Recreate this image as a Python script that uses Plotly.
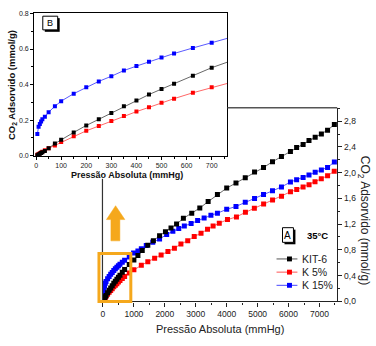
import plotly.graph_objects as go

# ---------------- data ----------------
p_kit6 = [5, 10, 15, 20, 25, 35, 50, 75, 100, 150, 200, 250, 300, 350, 400, 450, 500, 550, 625, 700,
          850, 1000, 1130, 1270, 1450, 1630, 1830, 2020, 2200, 2380, 2600, 2870, 3130, 3400, 3700,
          4000, 4300, 4600, 4900, 5190, 5480, 5770, 6060, 6260, 6470, 6660, 6860, 7060, 7260, 7480]
q_kit6 = [0.003, 0.007, 0.011, 0.015, 0.019, 0.027, 0.042, 0.068, 0.090, 0.131, 0.170, 0.205, 0.240,
          0.278, 0.310, 0.344, 0.375, 0.405, 0.450, 0.495,
          0.57, 0.64, 0.71, 0.79, 0.87, 0.94, 1.02, 1.08, 1.14, 1.20, 1.29, 1.37, 1.45, 1.55, 1.66,
          1.76, 1.84, 1.92, 2.01, 2.08, 2.17, 2.25, 2.33, 2.39, 2.44, 2.50, 2.55, 2.60, 2.66, 2.75]

p_k5 = [5, 10, 15, 20, 25, 35, 50, 75, 100, 150, 200, 250, 300, 350, 400, 450, 500, 550, 625, 700,
        850, 1000, 1240, 1450, 1670, 1880, 2100, 2310, 2520, 2740, 2950, 3170, 3380, 3560, 3760,
        4025, 4315, 4605, 4894, 5193, 5482, 5772, 6061, 6264, 6469, 6662, 6855, 7058, 7261, 7476]
q_k5 = [0.005, 0.010, 0.014, 0.018, 0.022, 0.030, 0.042, 0.058, 0.077, 0.110, 0.140, 0.167, 0.195,
        0.224, 0.248, 0.272, 0.298, 0.321, 0.354, 0.385,
        0.44, 0.49, 0.56, 0.615, 0.67, 0.72, 0.775, 0.825, 0.891, 0.942, 1.008, 1.058, 1.119, 1.17, 1.215,
        1.27, 1.312, 1.383, 1.448, 1.514, 1.574, 1.635, 1.702, 1.737, 1.778, 1.813, 1.859, 1.904, 1.954, 2.021]

p_k15 = [5, 10, 15, 20, 25, 35, 50, 75, 100, 150, 200, 250, 300, 350, 400, 450, 500, 550, 625, 700,
         850, 990, 1130, 1240, 1400, 1610, 1830, 2060, 2260, 2450, 2630, 2850, 3060, 3270, 3490, 3700,
         4000, 4300, 4600, 4900, 5190, 5480, 5770, 6060, 6260, 6470, 6660, 6860, 7060, 7260, 7480]
q_k15 = [0.122, 0.163, 0.179, 0.192, 0.205, 0.219, 0.245, 0.278, 0.307, 0.349, 0.385, 0.418, 0.447,
         0.479, 0.504, 0.528, 0.553, 0.575, 0.606, 0.636,
         0.69, 0.75, 0.78, 0.815, 0.866, 0.916, 0.967, 1.04, 1.09, 1.13, 1.17, 1.21, 1.255, 1.296, 1.337, 1.37,
         1.43, 1.475, 1.54, 1.60, 1.66, 1.717, 1.778, 1.854, 1.889, 1.924, 1.965, 2.006, 2.041, 2.082, 2.167]

series_names = ["KIT-6", "K 5%", "K 15%"]
main_x_ticks = [0, 1000, 2000, 3000, 4000, 5000, 6000, 7000]
main_x_ticktext = ["0", "1000", "2000", "3000", "4000", "5000", "6000", "7000"]
main_y_ticks = [0.0, 0.4, 0.8, 1.2, 1.6, 2.0, 2.4, 2.8]
main_y_ticktext = ["0,0", "0,4", "0,8", "1,2", "1,6", "2,0", "2,4", "2,8"]
inset_x_ticks = [0, 100, 200, 300, 400, 500, 600, 700]
inset_y_ticks = [0.0, 0.2, 0.4, 0.6, 0.8]

# ---------------- layout helpers ----------------
W, H = 376, 346
FONT = "Liberation Sans, Arial, sans-serif"


def fx(px):
    return px / W


def fy(py):
    return 1 - py / H


colors = {"KIT-6": "#000000", "K 5%": "#FF0000", "K 15%": "#0000FF"}
line_colors = {"KIT-6": "#404040", "K 5%": "#FF4040", "K 15%": "#3030FF"}
data = {"KIT-6": (p_kit6, q_kit6), "K 5%": (p_k5, q_k5), "K 15%": (p_k15, q_k15)}

fig = go.Figure()
order = ["K 5%", "K 15%", "KIT-6"]
for name in order:
    xs, ys = data[name]
    fig.add_trace(go.Scatter(x=xs, y=ys, mode="lines+markers", name=name, showlegend=False,
                             xaxis="x", yaxis="y", cliponaxis=True,
                             line=dict(color=line_colors[name], width=0.8),
                             marker=dict(symbol="square", size=5, color=colors[name])))
for name in order:
    xs, ys = data[name]
    fig.add_trace(go.Scatter(x=xs, y=ys, mode="lines+markers", name=name, showlegend=False,
                             xaxis="x2", yaxis="y2", cliponaxis=True,
                             line=dict(color=line_colors[name], width=0.8),
                             marker=dict(symbol="square", size=4, color=colors[name])))

axis_col = "#222222"
fig.update_layout(
    width=W, height=H, margin=dict(l=0, r=0, t=0, b=0),
    paper_bgcolor="white", plot_bgcolor="white",
    font=dict(family=FONT, color=axis_col),
    xaxis=dict(domain=[fx(101), fx(337)], range=[-16, 7572], anchor="y",
               showline=True, linecolor=axis_col, linewidth=1.3, mirror=False,
               ticks="outside", ticklen=4, tickwidth=1, tickcolor=axis_col,
               tickvals=main_x_ticks, ticktext=main_x_ticktext,
               minor=dict(ticks="outside", ticklen=2, tickcolor=axis_col, dtick=500, tick0=0),
               showgrid=False, zeroline=False, tickfont=dict(size=8.5)),
    yaxis=dict(domain=[fy(305.5), fy(107.3)], range=[-0.003, 3.009], anchor="x", side="right",
               showline=True, linecolor=axis_col, linewidth=1.3,
               ticks="outside", ticklen=4, tickwidth=1, tickcolor=axis_col,
               tickvals=main_y_ticks, ticktext=main_y_ticktext,
               minor=dict(ticks="outside", ticklen=2, tickcolor=axis_col, dtick=0.2, tick0=0),
               showgrid=False, zeroline=False, tickfont=dict(size=8.5)),
    xaxis2=dict(domain=[fx(32.5), fx(226.7)], range=[-7, 763], anchor="y2",
                showline=True, linecolor="#000000", linewidth=1.3, mirror=True,
                ticks="outside", ticklen=3, tickwidth=1, tickcolor="#000000",
                tickvals=inset_x_ticks,
                minor=dict(ticks="outside", ticklen=2, tickcolor="#000000", dtick=50, tick0=0),
                showgrid=False, zeroline=False, tickfont=dict(size=7)),
    yaxis2=dict(domain=[fy(156.5), fy(10)], range=[-0.001, 0.804], anchor="x2",
                showline=True, linecolor="#000000", linewidth=1.3, mirror=True,
                ticks="outside", ticklen=3, tickwidth=1, tickcolor="#000000",
                tickvals=inset_y_ticks, tickformat=".1f",
                minor=dict(ticks="outside", ticklen=2, tickcolor="#000000", dtick=0.1, tick0=0),
                showgrid=False, zeroline=False, tickfont=dict(size=7)),
)

shapes = []
# partial frame of the main plot (rest is hidden under the inset)
shapes.append(dict(type="line", xref="paper", yref="paper", x0=fx(226.7), x1=fx(337),
                   y0=fy(107.3), y1=fy(107.3), line=dict(color="#555555", width=1.4)))
shapes.append(dict(type="line", xref="paper", yref="paper", x0=fx(101), x1=fx(101),
                   y0=fy(180), y1=fy(305.5), line=dict(color="#333333", width=1.2)))
# orange zoom box
shapes.append(dict(type="rect", xref="paper", yref="paper", x0=fx(97.5), x1=fx(129.5),
                   y0=fy(305.5), y1=fy(256.5), line=dict(color="#F5A81C", width=3), layer="above"))
# orange arrow
pts = [(114.2, 207.5), (123.5, 221.7), (118.5, 221.7), (118.5, 243.5), (109.5, 243.5),
       (109.5, 221.7), (105, 221.7)]
path = "M " + " L ".join(f"{fx(a):.5f},{fy(b):.5f}" for a, b in pts) + " Z"
shapes.append(dict(type="path", xref="paper", yref="paper", path=path,
                   fillcolor="#F5A81C", line=dict(color="#F5A81C", width=0.5)))
# label boxes with shadow
for (x0, y0, x1, y1) in [(282, 230, 293, 245), (41, 13.5, 56, 27.5)]:
    shapes.append(dict(type="rect", xref="paper", yref="paper", x0=fx(x0 + 2), x1=fx(x1 + 2),
                       y0=fy(y1 + 2), y1=fy(y0 + 2), fillcolor="#000000", line=dict(width=0)))
    shapes.append(dict(type="rect", xref="paper", yref="paper", x0=fx(x0), x1=fx(x1),
                       y0=fy(y1), y1=fy(y0), fillcolor="#FFFFFF",
                       line=dict(color="#000000", width=1)))
# manual legend
legend_rows = [("KIT-6", 262), ("K 5%", 275.5), ("K 15%", 289)]
annotations = []
for name, yy in legend_rows:
    shapes.append(dict(type="line", xref="paper", yref="paper", x0=fx(276), x1=fx(297),
                       y0=fy(yy), y1=fy(yy), line=dict(color=line_colors[name], width=0.9)))
    shapes.append(dict(type="rect", xref="paper", yref="paper", x0=fx(286.5), x1=fx(291.5),
                       y0=fy(yy + 2.5), y1=fy(yy - 2.5), fillcolor=colors[name],
                       line=dict(width=0)))
    annotations.append(dict(text=name, xref="paper", yref="paper", x=fx(300), y=fy(yy),
                            xanchor="left", yanchor="middle", showarrow=False,
                            font=dict(size=10.5, color="#222222")))

annotations += [
    dict(text="A", x=fx(287.5), y=fy(237.5), font=dict(size=10, color="#000")),
    dict(text="<b>35°C</b>", x=fx(317), y=fy(238), font=dict(size=9.5, color="#000")),
    dict(text="B", x=fx(48.5), y=fy(20.5), font=dict(size=9, color="#000")),
    dict(text="Pressão Absoluta (mmHg)", x=fx(219), y=fy(333.5), font=dict(size=11, color="#222")),
    dict(text="CO<sub>2</sub> Adsorvido (mmol/g)", x=fx(364), y=fy(222), textangle=90,
         font=dict(size=12, color="#222")),
    dict(text="<b>Pressão Absoluta (mmHg)</b>", x=fx(126), y=fy(176.5), font=dict(size=9, color="#111")),
    dict(text="<b>CO<sub>2</sub> Adsorvido (mmol/g)</b>", x=fx(10), y=fy(84), textangle=-90,
         font=dict(size=9.5, color="#111")),
]
for a in annotations:
    a.setdefault("xref", "paper")
    a.setdefault("yref", "paper")
    a.setdefault("showarrow", False)
    a.setdefault("xanchor", "center")
    a.setdefault("yanchor", "middle")

fig.update_layout(shapes=shapes, annotations=annotations)
fig.write_html("out.html", config={"displayModeBar": False},
               post_script="document.body.style.margin='0';document.body.style.overflow='hidden';")
